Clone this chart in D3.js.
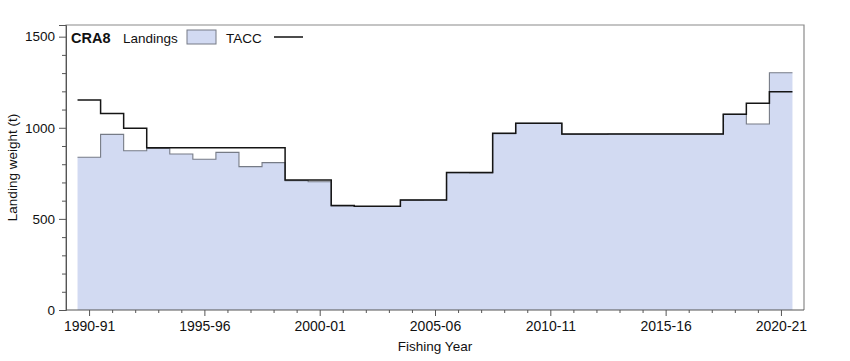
<!DOCTYPE html>
<html>
<head>
<meta charset="utf-8">
<script src="https://cdn.jsdelivr.net/npm/d3@7/dist/d3.min.js"></script>
<style>
  body { margin: 0; background: #fff; }
  svg { display: block; font-family: "Liberation Sans", Arial, sans-serif; }
</style>
</head>
<body>
<svg id="chart" width="850" height="361"></svg>
<script>
// ---- data ----
const years = ["1990-91","1991-92","1992-93","1993-94","1994-95","1995-96","1996-97","1997-98","1998-99","1999-00",
  "2000-01","2001-02","2002-03","2003-04","2004-05","2005-06","2006-07","2007-08","2008-09","2009-10",
  "2010-11","2011-12","2012-13","2013-14","2014-15","2015-16","2016-17","2017-18","2018-19","2019-20","2020-21"];
const landings = [838, 964, 874, 886, 856, 827, 865, 787, 809, 710,
  704, 571, 568, 568, 603, 604, 754, 752, 968, 1024,
  1024, 964, 964, 966, 966, 966, 966, 966, 1074, 1021, 1302];
const tacc = [1153, 1079, 997, 891, 891, 891, 891, 891, 891, 713,
  713, 573, 569, 569, 604, 604, 755, 755, 970, 1025,
  1025, 966, 966, 966, 966, 966, 966, 966, 1074, 1134, 1198];
const xTickLabels = ["1990-91","1995-96","2000-01","2005-06","2010-11","2015-16","2020-21"];
const yTicks = [0, 500, 1000, 1500];
const stockName = "CRA8";

// ---- layout ----
const svg = d3.select("#chart");
const L = 66, R = 804, T = 25, B = 310;
const x = d3.scaleLinear().domain([-1, years.length]).range([L, R]);
const y = d3.scaleLinear().domain([0, 1564]).range([B, T]);

const fillCol = "#d2daf2";
const edgeCol = "#767b86";

function stepPts(vals) {
  const pts = [];
  vals.forEach((v, i) => { pts.push([i - 0.5, v]); pts.push([i + 0.5, v]); });
  return pts;
}

// landings area
const area = d3.area().x(d => x(d[0])).y0(y(0)).y1(d => y(d[1]));
svg.append("path").datum(stepPts(landings))
  .attr("d", area).attr("fill", fillCol);
const line = d3.line().x(d => x(d[0])).y(d => y(d[1]));
svg.append("path").datum(stepPts(landings))
  .attr("d", line).attr("fill", "none").attr("stroke", edgeCol).attr("stroke-width", 1.1);

// TACC
svg.append("path").datum(stepPts(tacc))
  .attr("d", line).attr("fill", "none").attr("stroke", "#151515").attr("stroke-width", 1.5);

// frame
svg.append("path")
  .attr("d", `M${L},${B}V${T}H${R}V${B}`)
  .attr("fill", "none").attr("stroke", "#8a8a8a").attr("stroke-width", 1.2);

// y axis
const yAxis = d3.axisLeft(y).tickValues(yTicks).tickSize(7).tickPadding(4).tickFormat(d3.format("d"));
const gy = svg.append("g").attr("transform", `translate(${L},0)`).call(yAxis);
gy.select(".domain").attr("stroke", "#555");
gy.selectAll(".tick line").attr("stroke", "#555");
gy.selectAll("text").attr("font-size", 13.5).attr("fill", "#111").attr("font-family", "Liberation Sans, Arial, sans-serif");
const yMinor = d3.axisLeft(y).tickValues(d3.range(0, 1501, 100).filter(v => v % 500 !== 0)).tickSize(4).tickFormat("");
const gym = svg.append("g").attr("transform", `translate(${L},0)`).call(yMinor);
gym.select(".domain").remove();
gym.selectAll(".tick line").attr("stroke", "#555");

// x axis
const majorIdx = xTickLabels.map(l => years.indexOf(l));
const xAxis = d3.axisBottom(x).tickValues(majorIdx).tickSize(6).tickPadding(5)
  .tickFormat(d => years[d]);
const gx = svg.append("g").attr("transform", `translate(0,${B})`).call(xAxis);
gx.select(".domain").attr("stroke", "#555").attr("d", `M${L},0H${R}`);
gx.selectAll(".tick line").attr("stroke", "#555");
gx.selectAll("text").attr("font-size", 14).attr("fill", "#111").attr("font-family", "Liberation Sans, Arial, sans-serif");
const xMinor = d3.axisBottom(x).tickValues(d3.range(years.length).filter(i => !majorIdx.includes(i))).tickSize(3).tickFormat("");
const gxm = svg.append("g").attr("transform", `translate(0,${B})`).call(xMinor);
gxm.select(".domain").remove();
gxm.selectAll(".tick line").attr("stroke", "#555");

// axis titles
svg.append("text").attr("x", (L + R) / 2).attr("y", 351).attr("text-anchor", "middle")
  .attr("font-size", 13.5).attr("fill", "#111").text("Fishing Year");
svg.append("text").attr("transform", `translate(17,${(T + B) / 2}) rotate(-90)`).attr("text-anchor", "middle")
  .attr("font-size", 13.5).attr("fill", "#111").text("Landing weight (t)");

// legend
const lg = svg.append("g");
lg.append("text").attr("x", 71).attr("y", 43).attr("font-size", 14.5).attr("font-weight", "bold").attr("fill", "#111").text(stockName);
lg.append("text").attr("x", 123).attr("y", 43).attr("font-size", 13.5).attr("fill", "#111").text("Landings");
lg.append("rect").attr("x", 187).attr("y", 30).attr("width", 29).attr("height", 14)
  .attr("fill", fillCol).attr("stroke", edgeCol).attr("stroke-width", 1);
lg.append("text").attr("x", 226).attr("y", 43).attr("font-size", 13.5).attr("fill", "#111").text("TACC");
lg.append("line").attr("x1", 274).attr("x2", 303).attr("y1", 37).attr("y2", 37)
  .attr("stroke", "#111").attr("stroke-width", 1.5);
</script>
</body>
</html>
